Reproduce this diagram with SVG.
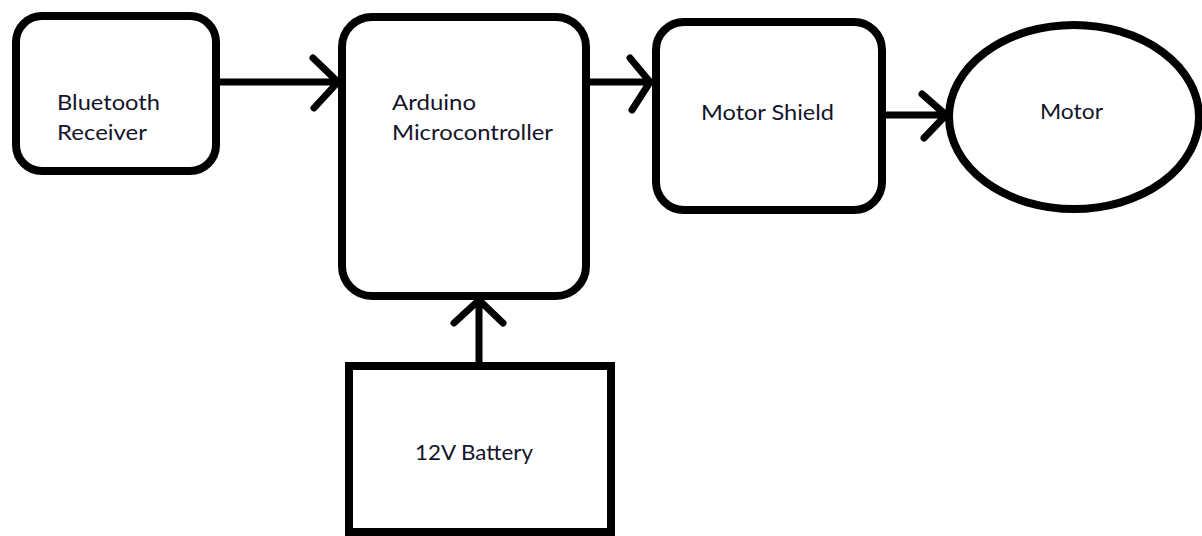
<svg xmlns="http://www.w3.org/2000/svg" width="1202" height="536" viewBox="0 0 1202 536">
<style>
.box{fill:#fff;stroke:#000;stroke-width:8}
.lbl{font-family:"Lato","Open Sans","Liberation Sans",sans-serif;font-size:21.5px;fill:#14142a}
.wire{fill:none;stroke:#000;stroke-width:7;stroke-linecap:round;stroke-linejoin:round}
</style>
<rect width="1202" height="536" fill="#fff"/>
<g id="bluetooth">
<rect class="box" x="16" y="16" width="200" height="155" rx="26"/>
<text class="lbl" x="57" y="110" textLength="103" lengthAdjust="spacingAndGlyphs">Bluetooth</text>
<text class="lbl" x="57" y="140" textLength="90" lengthAdjust="spacingAndGlyphs">Receiver</text>
</g>
<g id="arduino">
<rect class="box" x="342" y="17" width="244" height="279" rx="30"/>
<text class="lbl" x="392" y="110" textLength="84" lengthAdjust="spacingAndGlyphs">Arduino</text>
<text class="lbl" x="392" y="140" textLength="161" lengthAdjust="spacingAndGlyphs">Microcontroller</text>
</g>
<g id="shield">
<rect class="box" x="656" y="22" width="226" height="188" rx="28"/>
<text class="lbl" x="701" y="120" textLength="133" lengthAdjust="spacingAndGlyphs">Motor Shield</text>
</g>
<g id="motor">
<ellipse class="box" cx="1074" cy="117" rx="125" ry="92"/>
<text class="lbl" x="1040" y="119" textLength="63" lengthAdjust="spacingAndGlyphs">Motor</text>
</g>
<g id="battery">
<rect class="box" x="349" y="366" width="262" height="166"/>
<text class="lbl" x="415" y="460" textLength="118" lengthAdjust="spacingAndGlyphs">12V Battery</text>
</g>
<g id="connectors">
<path class="wire" d="M220 82 H338 M313 58 L338 82 L314 108"/>
<path class="wire" d="M590 82 H650 M630 58 L650 82 L632 110"/>
<path class="wire" d="M886 115 H946 M922 94 L946 115 L924 138"/>
<path class="wire" d="M479 362 V300 M454 323 L479 300 L503 323"/>
</g>
</svg>
